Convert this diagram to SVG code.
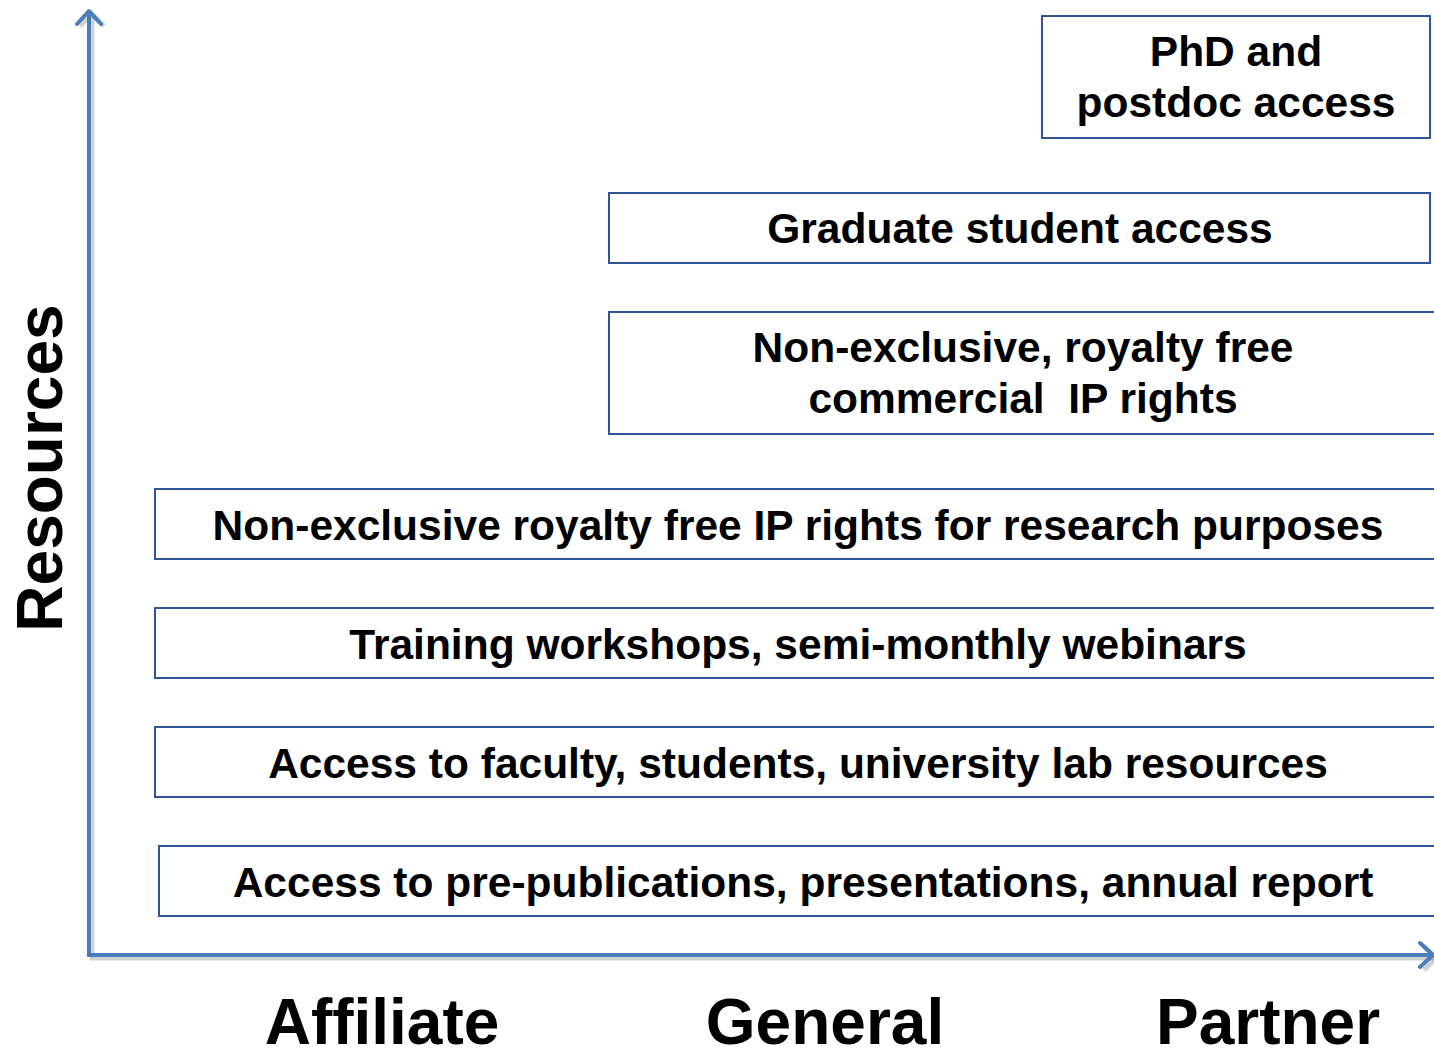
<svg xmlns="http://www.w3.org/2000/svg" width="1434" height="1051" viewBox="0 0 1434 1051">
<style>
.box{fill:#fff;stroke:#2f5597;stroke-width:2}
.t{font-family:"Liberation Sans",Arial,sans-serif;font-weight:bold;font-size:42.5px;fill:#000;text-anchor:middle;white-space:pre}
.ax{font-family:"Liberation Sans",Arial,sans-serif;font-weight:bold;font-size:64px;fill:#000;text-anchor:middle}
.axis{stroke:#4a7ebb;stroke-width:4;fill:none}
.shadow{stroke:#000;stroke-opacity:0.18;stroke-width:5;fill:none}
</style>
<rect width="1434" height="1051" fill="#fff"/>
<g id="connectors">
<path class="shadow" d="M92,17 V958 H1436"/>
<path class="shadow" d="M80,26 L92,14 L104,26 M1424,946 L1436,958 L1424,970"/>
<path class="axis" d="M89,12 V955 H1432"/>
<path class="axis" d="M77,24 L89,11 L101,24 M1420,943 L1433,955 L1420,967" stroke-width="5" stroke-linecap="round" stroke-linejoin="round"/>
</g>
<g id="resources-label"><text class="ax" font-size="63" transform="translate(62,468) rotate(-90)">Resources</text></g>
<g id="phd"><rect class="box" x="1042" y="16" width="388" height="122"/><text class="t" x="1236" y="66">PhD and</text><text class="t" x="1236" y="117">postdoc access</text></g>
<g id="graduate"><rect class="box" x="609" y="193" width="821" height="70"/><text class="t" x="1020" y="243">Graduate student access</text></g>
<g id="commercial"><rect class="box" x="609" y="312" width="840" height="122"/><text class="t" x="1023" y="362">Non-exclusive, royalty free</text><text class="t" x="1023" y="413" xml:space="preserve">commercial  IP rights</text></g>
<g id="research"><rect class="box" x="155" y="489" width="1300" height="70"/><text class="t" x="798" y="540">Non-exclusive royalty free IP rights for research purposes</text></g>
<g id="training"><rect class="box" x="155" y="608" width="1300" height="70"/><text class="t" x="798" y="659">Training workshops, semi-monthly webinars</text></g>
<g id="faculty"><rect class="box" x="155" y="727" width="1300" height="70"/><text class="t" x="798" y="778">Access to faculty, students, university lab resources</text></g>
<g id="prepub"><rect class="box" x="159" y="846" width="1300" height="70"/><text class="t" x="803" y="897">Access to pre-publications, presentations, annual report</text></g>
<g id="affiliate"><text class="ax" x="382" y="1044">Affiliate</text></g>
<g id="general"><text class="ax" x="825" y="1044">General</text></g>
<g id="partner"><text class="ax" x="1268" y="1044">Partner</text></g>
</svg>
